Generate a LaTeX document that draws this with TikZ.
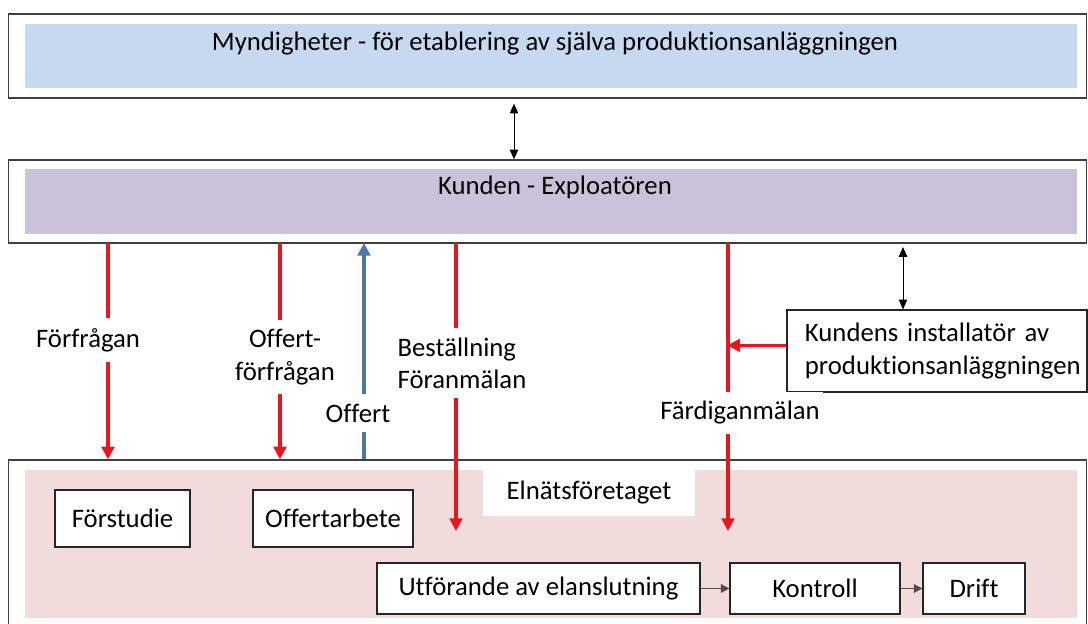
\documentclass[tikz,border=0pt]{standalone}
\usepackage{fontspec}
\setmainfont{Carlito}[Ligatures=NoCommon]
\usetikzlibrary{positioning}
\usetikzlibrary{arrows.meta}

\definecolor{myndblue}{RGB}{198,217,241}
\definecolor{kundpurple}{RGB}{204,193,218}
\definecolor{elnatpink}{RGB}{242,220,219}
\definecolor{reqred}{RGB}{232,22,30}
\definecolor{offblue}{RGB}{79,118,170}

\begin{document}
\begin{tikzpicture}[x=0.025cm,y=-0.025cm,
  font=\fontsize{19}{23}\selectfont,
  frame/.style={draw=black!75,line width=0.9pt,minimum width=26.95cm,inner sep=0pt},
  band/.style={fill=#1,minimum width=26.3cm,minimum height=1.6cm,inner sep=0pt},
  stepbox/.style={draw=black!85,fill=white,line width=0.8pt,inner sep=0pt},
  req/.style={draw=reqred,line width=2.2pt,-{Triangle[width=9pt,length=9pt]}},
  reply/.style={draw=offblue,line width=2.2pt,-{Triangle[width=9pt,length=9pt]}},
  link/.style={draw=black,line width=0.7pt,{Triangle[width=6pt,length=7pt]}-{Triangle[width=6pt,length=7pt]}},
  seq/.style={draw=black!70,line width=1pt,-{Triangle[width=6pt,length=6pt]}},
  lbl/.style={fill=white,inner xsep=2pt,inner ysep=7pt,align=left}]
\useasboundingbox (0,0) rectangle (1088,624);
\clip (0,0) rectangle (1088,624);

% authorities
\node[frame,minimum height=2.1cm] (mynd) at (547.5,56) {};
\node[band=myndblue] (myndfill) at (551,56) {};
\node (myndtext) at (555,44) {Myndigheter - för etablering av själva produktionsanläggningen};

% customer
\node[frame,minimum height=2.075cm] (kunden) at (547.5,201.5) {};
\node[band=kundpurple] (kundfill) at (551,201.5) {};
\node (kundtext) at (555,187) {Kunden - Exploatören};

% grid company
\node[frame,minimum height=4.5cm] (elnat) at (547.5,550) {};
\node[fill=elnatpink,minimum width=26.3cm,minimum height=3.7cm,inner sep=0pt] (elnatfill) at (551,544) {};
\node[fill=white,minimum width=5.3cm,minimum height=1.15cm,inner sep=0pt] (elnattext) at (589,493) {Elnätsföretaget};

\node[stepbox,minimum width=3.375cm,minimum height=1.425cm] (forstudie) at (122.5,518.5) {Förstudie};
\node[stepbox,minimum width=4cm,minimum height=1.425cm] (offertarb) at (333,518.5) {Offertarbete};
\node[stepbox,minimum width=8.075cm,minimum height=1.275cm] (utforande) at (538.5,588.5) {Utförande av elanslutning};
\node[stepbox,minimum width=4.25cm,minimum height=1.275cm] (kontroll) at (815,588.5) {Kontroll};
\node[stepbox,minimum width=2.55cm,minimum height=1.275cm] (drift) at (974,588.5) {Drift};

\node[stepbox,minimum width=7.5cm,minimum height=2.05cm,align=left,text width=6.6cm] (install) at (937,351)
  {Kundens installatör av\\produktionsanläggningen};

% arrow columns
\coordinate (c1) at (108,243);
\coordinate (c2) at (280,243);
\coordinate (c3) at (364,243);
\coordinate (c4) at (456,243);
\coordinate (c5) at (728,243);
\coordinate (c6) at (903,247);

\draw[link] (mynd.south -| kundtext.north) ++(-41,5) coordinate (m1) -- (m1 |- kunden.north);
\draw[req] (c1) -- (c1 |- elnat.north);
\draw[req] (c2) -- (c2 |- elnat.north);
\draw[reply] (c3 |- elnat.north) -- (c3);
\draw[req] (c4) -- (456,531);
\draw[req] (c5) -- (728,531);
\draw[link] (c6) -- (c6 |- install.north);
\draw[req] ([yshift=4pt]install.west) -- ++(-59,0);
\draw[seq] (utforande) -- (kontroll);
\draw[seq] (kontroll) -- (drift);

\node[lbl] (forfragan) at (88,340) {Förfrågan};
\node[lbl,align=center] (offertfraga) at (285,357) {Offert-\\förfrågan};
\node[lbl] (offert) at (358,413) {Offert};
\node[lbl] (bestall) at (462,363) {Beställning\\Föranmälan};
\node[lbl] (fardig) at (740,413) {Färdiganmälan};
\end{tikzpicture}
\end{document}
